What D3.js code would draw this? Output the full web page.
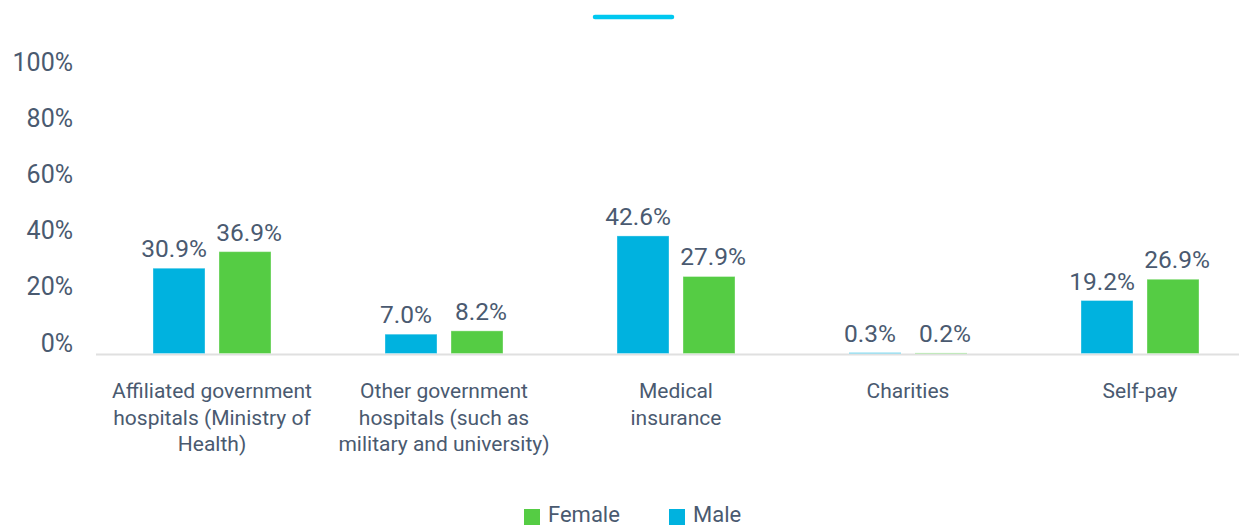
<!DOCTYPE html>
<html>
<head>
<meta charset="utf-8">
<script src="https://cdn.jsdelivr.net/npm/d3@7"></script>
<style>
  html, body { margin: 0; padding: 0; background: #fff; }
  svg { display: block; font-family: Roboto, "Noto Sans", sans-serif; }
</style>
</head>
<body>
<svg id="chart" width="1239" height="527"></svg>
<script>
const categories = [
  "Affiliated government hospitals (Ministry of Health)",
  "Other government hospitals (such as military and university)",
  "Medical insurance",
  "Charities",
  "Self-pay"
];
const categoryLines = [
  ["Affiliated government", "hospitals (Ministry of", "Health)"],
  ["Other government", "hospitals (such as", "military and university)"],
  ["Medical", "insurance"],
  ["Charities"],
  ["Self-pay"]
];
const seriesNames = ["Male", "Female"];
const maleValues = [30.9, 7.0, 42.6, 0.3, 19.2];
const femaleValues = [36.9, 8.2, 27.9, 0.2, 26.9];
const yTicks = [0, 20, 40, 60, 80, 100];
const legendOrder = ["Female", "Male"];

const colors = { Male: "#00b2df", Female: "#55cc44" };
const labelShift = { Male: -5, Female: 4 };
const textColor = "#4a5a70";

const svg = d3.select("#chart");

const x0 = d3.scaleBand().domain(categories).range([96, 1256]).padding(0);
const x1 = d3.scaleBand().domain(seriesNames).range([57, 175]).paddingInner(14 / 66).paddingOuter(0);
const y = d3.scaleLinear().domain([0, 100]).range([353.5, 77.5]);
const yLabel = d3.scaleLinear().domain([0, 100]).range([343, 62]);

// decorative top line
svg.append("line")
  .attr("x1", 595).attr("x2", 672).attr("y1", 17).attr("y2", 17)
  .attr("stroke", "#00c8f0").attr("stroke-width", 4.5).attr("stroke-linecap", "round");

// y axis labels
const yAxis = d3.axisLeft(yLabel).tickValues(yTicks).tickFormat(d => d + "%").tickSize(0).tickPadding(0);
const gy = svg.append("g").attr("transform", "translate(73,0)").call(yAxis);
gy.select(".domain").remove();
gy.selectAll("text")
  .attr("fill", textColor)
  .style("font-size", "25px")
  .style("font-family", "Roboto, sans-serif");

// baseline
svg.append("line")
  .attr("x1", 96).attr("x2", 1239).attr("y1", 354.5).attr("y2", 354.5)
  .attr("stroke", "#e0e0e0").attr("stroke-width", 2);

const data = categories.map((c, i) => ({
  cat: c,
  values: [{ s: "Male", v: maleValues[i] }, { s: "Female", v: femaleValues[i] }]
}));

const groups = svg.append("g").selectAll("g").data(data).join("g")
  .attr("transform", d => `translate(${x0(d.cat)},0)`);

groups.selectAll("rect").data(d => d.values).join("rect")
  .attr("x", d => x1(d.s))
  .attr("width", x1.bandwidth())
  .attr("y", d => y(d.v))
  .attr("height", d => y(0) - y(d.v))
  .attr("fill", d => colors[d.s])
  .attr("stroke", "#ffffff")
  .attr("stroke-opacity", 0.35)
  .attr("stroke-width", 1);

groups.selectAll("text.val").data(d => d.values).join("text")
  .attr("class", "val")
  .attr("x", d => x1(d.s) + x1.bandwidth() / 2 + labelShift[d.s])
  .attr("y", d => y(d.v) - 11)
  .attr("text-anchor", "middle")
  .attr("fill", textColor)
  .style("font-size", "24.5px")
  .text(d => d.v.toFixed(1) + "%");

// category labels
const xAxis = d3.axisBottom(x0).tickSize(0).tickFormat("");
const gx = svg.append("g").attr("transform", "translate(0,354)").call(xAxis);
gx.select(".domain").remove();
gx.selectAll(".tick").each(function(d, i) {
  const t = d3.select(this).append("text")
    .attr("text-anchor", "middle")
    .attr("fill", textColor)
    .style("font-size", "21px")
    .style("font-family", "Roboto, sans-serif");
  categoryLines[i].forEach((line, j) => {
    t.append("tspan").attr("x", 0).attr("y", 44 + j * 26.5).text(line);
  });
});

// legend
const legendX = { Female: 524, Male: 669 };
const lg = svg.append("g");
legendOrder.forEach(s => {
  lg.append("rect").attr("x", legendX[s]).attr("y", 509).attr("width", 16).attr("height", 16).attr("fill", colors[s]);
  lg.append("text").attr("x", legendX[s] + 24).attr("y", 522)
    .attr("fill", textColor).style("font-size", "22px").text(s);
});
</script>
</body>
</html>
